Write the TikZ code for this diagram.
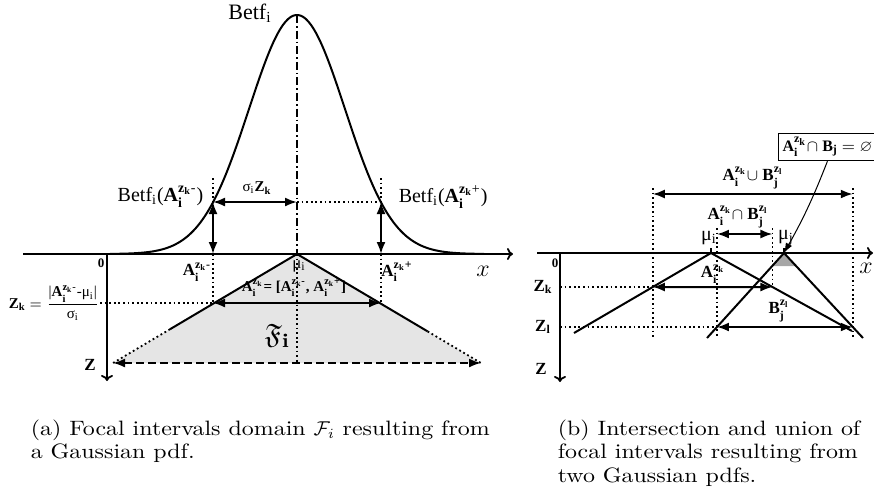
\documentclass[tikz,border=0pt]{standalone}
\usepackage{amsmath,amssymb}
\usepackage{fontspec}
\setmainfont{Latin Modern Roman}[FakeStretch=1.15]
\newfontfamily\lblfont{Liberation Serif}
\usetikzlibrary{arrows.meta,positioning,calc}
\tikzset{every picture/.style={line width=0.75pt}}
\tikzset{
  lbl/.style={font=\lblfont\fontsize{10}{11}\selectfont, inner sep=0pt},
  blbl/.style={font=\lblfont\bfseries\fontsize{8.5}{10}\selectfont, inner sep=0pt},
  sml/.style={font=\lblfont\fontsize{7.5}{8}\selectfont, inner sep=0pt},
  dbl/.style={{Latex[length=6pt,width=4.5pt]}-{Latex[length=6pt,width=4.5pt]}, line width=1pt},
  axis/.style={-{To[length=3pt,width=6pt]}, line width=0.9pt},
  dots/.style={line width=0.9pt, dash pattern=on 0.9pt off 1.4pt},
  gcurve/.style={line width=1pt},
  captxt/.style={font=\fontsize{10.4}{11.75}\selectfont, inner sep=0pt, anchor=base west},
}
\newcommand{\Aiz}[1]{\textbf{A}$_{\textbf{i}}^{\textbf{z}_{\textbf{k}}\text{#1}}$}
\newcommand{\Bjz}{\textbf{B}$_{\textbf{j}}^{\textbf{z}_{\textbf{l}}}$}

\begin{document}
\begin{tikzpicture}[x=0.5pt,y=-0.5pt]
    \useasboundingbox (0,0) rectangle (874,500);

    % (a) 关键点
    \coordinate (mu) at (297,254);
    \coordinate (top) at (297,15);
    \coordinate (Pm) at (213,202);
    \coordinate (Pp) at (381,202);
    \coordinate (Pc) at (297,202);
    \coordinate (Um) at (213,178);
    \coordinate (Up) at (381,178);
    \coordinate (Am) at (213,254);
    \coordinate (Ap) at (381,254);
    \coordinate (Km) at (213,303);
    \coordinate (Kp) at (381,303);
    \coordinate (BL) at (113,363);
    \coordinate (BR) at (481,363);
    \coordinate (BC) at (297,363);
    \coordinate (SL) at ($(mu)!0.69!(BL)$);
    \coordinate (SR) at ($(mu)!0.71!(BR)$);

    % 焦点区间域（灰色）
    \fill[gray!20] (mu) -- (BL) -- (BR) -- cycle;

    % 坐标轴
    \coordinate (xa1) at (23,254);
    \coordinate (xb1) at (513,254);
    \coordinate (za1) at (107,254);
    \coordinate (zb1) at (107,381);
    \draw[axis] (xa1) -- (xb1);
    \draw[axis] (za1) -- (zb1);

    % 高斯曲线
    \draw[gcurve] plot[domain=110:484, samples=150, smooth] (\x, {254-239*exp(-0.5*((\x-297)/48)^2)});

    % 中线
    \draw[dash pattern=on 4pt off 1.5pt on 0.8pt off 1.5pt] (top) -- (mu);
    \draw[dots] (mu) -- (BC);

    % 三角形的边
    \draw[gcurve] (SL) -- (mu) -- (SR);
    \draw[dots] (SL) -- (BL);
    \draw[dots] (SR) -- (BR);
    \draw[dbl, dash pattern=on 4pt off 2pt] (BL) -- (BR);

    % 辅助线与箭头
    \draw[dots] (Um) -- (Pm);
    \draw[dots] (Up) -- (Pp);
    \draw[dots] (Am) -- (Km);
    \draw[dots] (Ap) -- (Kp);
    \draw[dbl] (Pm) -- (Am);
    \draw[dbl] (Pp) -- (Ap);
    \draw[dbl] (Pm) -- (Pc);
    \draw[dots] (Pc) -- (Pp);
    \draw[dbl] (Km) -- (Kp);

    % 标注
    \node[lbl, font=\lblfont\fontsize{11}{12}\selectfont] (betf) at (250,13) {Betf\textsubscript{i}};
    \node[sml] (sz) at (257,188) {σ\textsubscript{i}\textbf{Z}\textsubscript{\textbf{k}}};
    \node[lbl, anchor=east] (betfm) at (204,197) {Betf\textsubscript{i}(\Aiz{-})};
    \node[lbl, anchor=west] (betfp) at (398,197) {Betf\textsubscript{i}(\Aiz{+})};
    \node[blbl] (am) at (197,272) {\Aiz{-}};
    \node[blbl] (ap) at (397,272) {\Aiz{+}};
    \node[lbl, font=\lblfont\fontsize{8.5}{9}\selectfont] (mul) at (299,266) {μ\textsubscript{i}};
    \node[blbl, font=\lblfont\bfseries\fontsize{7.5}{9}\selectfont] (aint) at (294,288) {\Aiz{}= [\Aiz{-}, \Aiz{+}]};
    \node (fi) at (277,336) {\fontsize{14}{14}\selectfont$\mathfrak{F}_{\mathbf{i}}$};
    \node[blbl, font=\lblfont\bfseries\fontsize{6.5}{7}\selectfont] (zero1) at (101,263) {0};
    \node[blbl] (zlab1) at (90,365) {Z};
    \node[lbl, font=\lblfont\fontsize{7.5}{8}\selectfont, anchor=east] (zkf) at (100,303)
        {\textbf{Z}\textsubscript{\textbf{k}} $=\dfrac{\text{|\Aiz{-}-μ\textsubscript{i}|}}{\text{σ\textsubscript{i}}}$};
    \draw[dots] (zkf.east) -- (Km);
    \node (xlab1) at (483,271) {\fontsize{13}{13}\selectfont$x$};

    % (b) 关键点
    \coordinate (Ai) at (711,253);
    \coordinate (Bj) at (784,253);
    \coordinate (AL) at (574,333);
    \coordinate (AR) at (852,331);
    \coordinate (BLb) at (707,338);
    \coordinate (BRb) at (863,338);
    \coordinate (Ak1) at ($(Ai)!0.425!(AL)$);
    \coordinate (Ak2) at ($(Ai)!0.436!(AR)$);
    \coordinate (Bl1) at ($(Bj)!0.8706!(BLb)$);
    \coordinate (Bl2) at ($(Bj)!0.8706!(BRb)$);
    \coordinate (G1) at ($(Bj)!0.153!(BLb)$);
    \coordinate (G2) at ($(Bj)!0.153!(BRb)$);
    \coordinate (yT) at (0,188);
    \coordinate (yU) at (0,194);
    \coordinate (yT2) at (0,228);
    \coordinate (yI) at (0,234);
    \coordinate (yD) at (0,337);

    % 空交集（灰色）
    \fill[gray!70] (Bj) -- (G1) -- (G2) -- cycle;

    % 坐标轴
    \coordinate (xa2) at (537,253);
    \coordinate (xb2) at (873,253);
    \coordinate (za2) at (560,253);
    \coordinate (zb2) at (560,382);
    \draw[axis] (xa2) -- (xb2);
    \draw[axis] (za2) -- (zb2);

    % 两个三角形
    \draw[gcurve] (AL) -- (Ai) -- (AR);
    \draw[gcurve] (BLb) -- (Bj) -- (BRb);
    \draw (Ai) -- ++(0,-5);
    \draw (Bj) -- ++(0,-5);

    % 辅助线与区间箭头
    \draw[dots] (Ak1 |- yT) -- (Ak1 |- yD);
    \draw[dots] (Bl2 |- yT) -- (Bl2 |- yD);
    \draw[dots] (Bl1 |- yT2) -- (Bl1 |- yD);
    \draw[dots] (Ak2 |- yT2) -- (Ak2);
    \draw[dots] (za2 |- Ak1) -- (Ak1);
    \draw[dots] (za2 |- Bl1) -- (Bl1);
    \draw[dbl] (Ak1 |- yU) -- (Bl2 |- yU);
    \draw[dbl] (Bl1 |- yI) -- (Ak2 |- yI);
    \draw[dbl] (Ak1) -- (Ak2);
    \draw[dbl] (Bl1) -- (Bl2);

    % 标注
    \node[lbl] (mui2) at (709,238) {μ\textsubscript{i}};
    \node[lbl] (muj2) at (786,238) {μ\textsubscript{j}};
    \node[blbl] (aik2) at (713,274) {\Aiz{}};
    \node[blbl] (bjl2) at (779,311) {\Bjz};
    \node[blbl] (uni) at (753,178) {\Aiz{}$\cup$ \Bjz};
    \node[blbl] (ints) at (738,217) {\Aiz{}$\cap$ \Bjz};
    \node[blbl, font=\lblfont\bfseries\fontsize{8}{9}\selectfont, draw, line width=0.5pt, inner sep=2pt, anchor=west] (box) at (778,147)
        {\Aiz{}$\cap$ \textbf{B}$_{\textbf{j}}$ $=\varnothing$};
    \draw[-{Latex[length=5pt,width=3.5pt]}, line width=0.5pt] (box.south) to[bend left=4] (Bj);
    \node[blbl, font=\lblfont\bfseries\fontsize{6.5}{7}\selectfont] (zero2) at (555,263) {0};
    \node[blbl] (zk2) at (543,287) {Z\textsubscript{k}};
    \node[blbl] (zl2) at (543,327) {Z\textsubscript{l}};
    \node[blbl] (zlab2) at (541,369) {Z};
    \node (xlab2) at (866,268) {\fontsize{13}{13}\selectfont$x$};

    % 图注
    \node[captxt] (capa) at (30,435) {\begin{tabular}[t]{@{}l@{}}(a) Focal intervals domain $\mathcal{F}_i$ resulting from\\a Gaussian pdf.\end{tabular}};
    \node[captxt] (capb) at (557,435) {\begin{tabular}[t]{@{}l@{}}(b) Intersection and union of\\focal intervals resulting from\\two Gaussian pdfs.\end{tabular}};
\end{tikzpicture}
\end{document}
